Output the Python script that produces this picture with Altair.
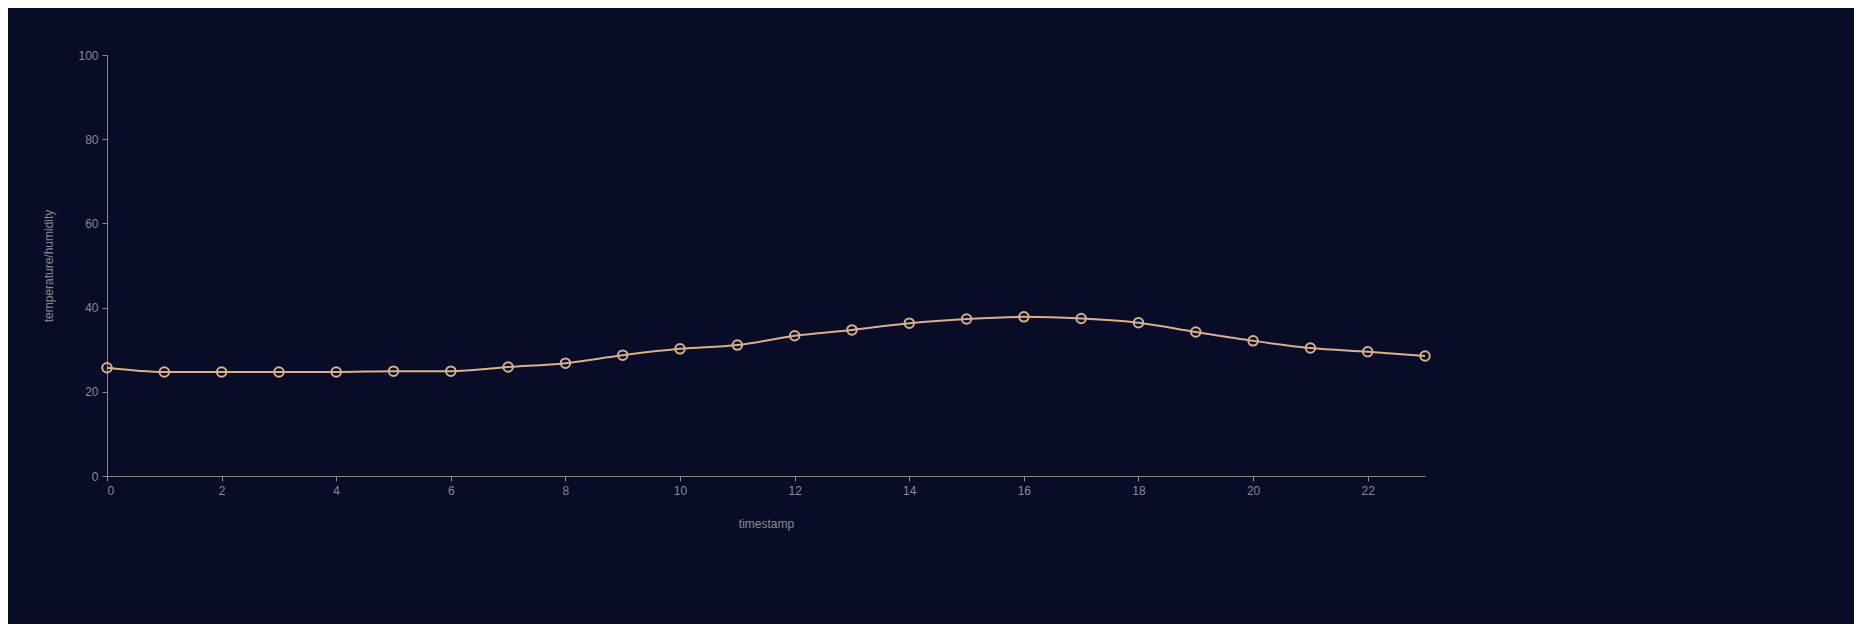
import pandas as pd
import altair as alt

hours = list(range(24))
temperature = [25.7, 24.7, 24.7, 24.7, 24.7, 24.9, 24.9, 25.9, 26.8, 28.7, 30.2, 31.1,
               33.3, 34.7, 36.3, 37.3, 37.8, 37.4, 36.4, 34.2, 32.1, 30.4, 29.5, 28.5]
series = ["humidity", "temperature"]
series_colors = ["#b5504a", "#a89080"]

df = pd.DataFrame({"timestamp": hours, "value": temperature, "series": "temperature"})

base = alt.Chart(df).encode(
    x=alt.X("timestamp:Q", title="timestamp",
            scale=alt.Scale(domain=[0, 23], nice=False),
            axis=alt.Axis(values=list(range(0, 23, 2)), grid=False)),
    y=alt.Y("value:Q", title="temperature/humidity",
            scale=alt.Scale(domain=[0, 100]),
            axis=alt.Axis(values=[0, 20, 40, 60, 80, 100], grid=False)),
)

line = base.mark_line(color="#d9b08c", strokeWidth=2, interpolate="monotone")
pts = base.mark_point(filled=False, size=90, strokeWidth=2, opacity=1).encode(
    color=alt.Color("series:N", scale=alt.Scale(domain=series, range=series_colors),
                    legend=alt.Legend(title=None, orient="none", legendX=1338, legendY=382,
                                      symbolType="circle", symbolSize=140, symbolOpacity=1,
                                      symbolStrokeWidth=0, labelColor="#8a8a95",
                                      labelFontSize=12, rowPadding=6)),
    stroke=alt.value("#d9b08c"),
)

chart = (line + pts).properties(
    width=1318, height=421, background="#080c26",
    padding={"left": 99, "top": 47, "right": 429, "bottom": 148},
    autosize=alt.AutoSizeParams(type="none"),
).configure_axis(
    domainColor="#888", tickColor="#888", labelColor="#8a8a95", titleColor="#8a8a95",
    labelFont="Liberation Sans", titleFont="Liberation Sans",
    labelFontSize=12, titleFontSize=12, titleFontWeight="normal", labelPadding=4,
).configure_axisX(titlePadding=22).configure_axisY(titlePadding=22).configure_view(stroke=None).configure_legend(
    labelFont="Liberation Sans")

chart.save("out.html", embed_options={"renderer": "svg", "actions": False})
